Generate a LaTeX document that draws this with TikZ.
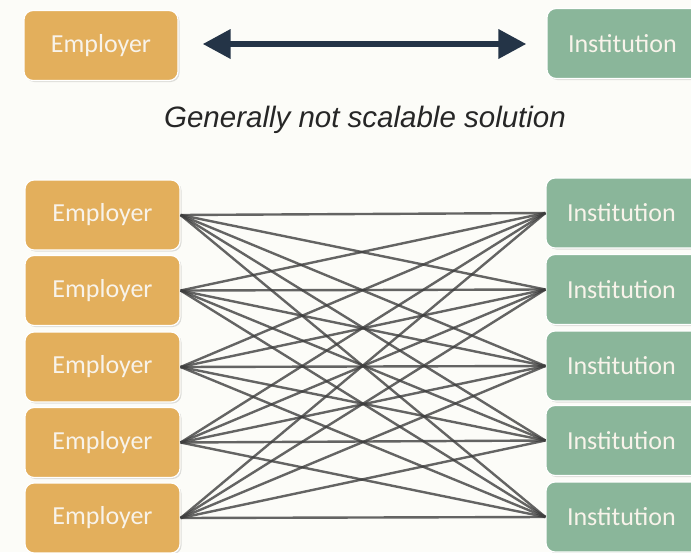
\documentclass[tikz,border=0pt]{standalone}
\usepackage{fontspec}
\setmainfont{Carlito}
\newfontfamily\capfont{Liberation Sans}
\usetikzlibrary{arrows.meta,shadows}
\definecolor{emp}{HTML}{E3AF5C}
\definecolor{inst}{HTML}{8AB69A}
\definecolor{navy}{HTML}{243447}
\definecolor{bg}{HTML}{FCFCF8}
\definecolor{boxtext}{HTML}{F8F3EA}
\definecolor{linkgray}{HTML}{3E3E3E}
\begin{document}
\begin{tikzpicture}[x=1pt,y=-1pt,
  box/.style={draw=white, line width=1.2pt, rounded corners=9pt, minimum width=154pt, minimum height=70pt,
     inner sep=0pt, text=boxtext, font=\fontsize{26}{30}\selectfont,
     drop shadow={shadow xshift=1.5pt, shadow yshift=-1.5pt, opacity=0.12, fill=black}},
  empbox/.style={box, fill=emp},
  instbox/.style={box, fill=inst, text width=112pt, align=left},
  link/.style={draw=linkgray, draw opacity=0.8, line width=2.4pt},
  bigarrow/.style={draw=navy, line width=6.5pt, {Triangle[length=28pt,width=28pt]}-{Triangle[length=28pt,width=28pt]}}]
\fill[bg] (0,0) rectangle (691,552);
\useasboundingbox (0,0) rectangle (691,552);
% top row
\node[empbox] (E0) at (101,45.5) {Employer};
\node[instbox] (I0) at (624,43.5) {Institution};
\draw[bigarrow, shorten <=24pt, shorten >=20pt] (E0.east |- 0,44) -- (I0.west |- 0,44);
\node[font=\capfont\itshape\fontsize{29.5}{34}\selectfont, text=black!85] (cap) at (365,120) {Generally not scalable solution};
% bottom grid
\foreach \i/\ye/\yi in {1/215/213, 2/290.5/289.5, 3/367/366, 4/442.5/440.5, 5/518/517}{
  \node[empbox, minimum width=155pt] (E\i) at (102.5,\ye) {Employer};
  \node[instbox] (I\i) at (623,\yi) {Institution};
}
\foreach \i in {1,...,5}{
  \foreach \j in {1,...,5}{
    \draw[link] (E\i.east) -- (I\j.west);
  }
}
\end{tikzpicture}
\end{document}
